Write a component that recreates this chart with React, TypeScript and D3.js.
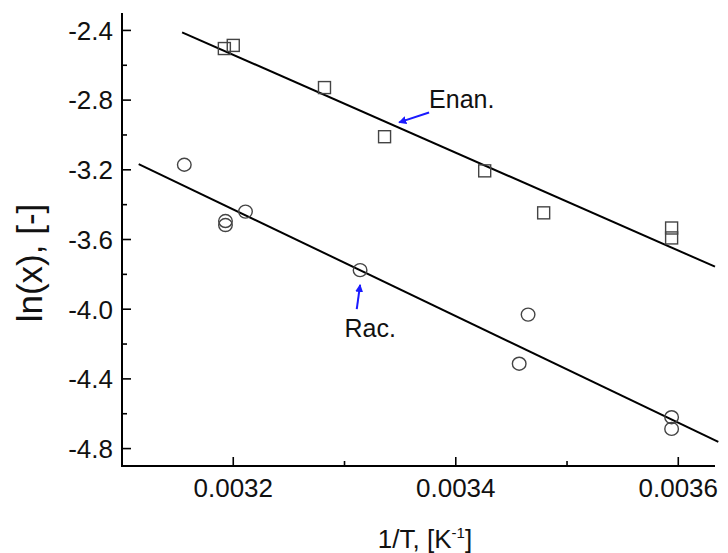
import React from "react";
import * as d3 from "d3";

// Data
const enanX = [0.003192, 0.0032, 0.003282, 0.003336, 0.003426, 0.003479, 0.003594, 0.003594];
const enanY = [-2.504, -2.486, -2.728, -3.010, -3.206, -3.447, -3.534, -3.591];
const racX = [0.003156, 0.003193, 0.003193, 0.003211, 0.003314, 0.003465, 0.003457, 0.003594, 0.003594];
const racY = [-3.171, -3.494, -3.517, -3.440, -3.776, -4.031, -4.313, -4.620, -4.687];

// Linear fit lines (endpoints in data units)
const enanFitX = [0.003154, 0.003633];
const enanFitY = [-2.411, -3.756];
const racFitX = [0.003115, 0.003636];
const racFitY = [-3.167, -4.762];

const xMajorTicks = [0.0032, 0.0034, 0.0036];
const xMinorTicks = [0.0033, 0.0035];
const yMajorTicks = [-2.4, -2.8, -3.2, -3.6, -4.0, -4.4, -4.8];
const yMinorTicks = [-2.6, -3.0, -3.4, -3.8, -4.2, -4.6];

const xLabel = "1/T, [K";
const yLabel = "ln(x), [-]";
const enanLabel = "Enan.";
const racLabel = "Rac.";

export default function App() {
  const W = 728, H = 553;
  const x = d3.scaleLinear().domain([0.0031, 0.003633]).range([122, 715]);
  const y = d3.scaleLinear().domain([-4.9, -2.3]).range([466, 13]);
  const font = "'Liberation Sans', Arial, sans-serif";
  const [x0, x1] = x.range();
  const [yb, yt] = y.range();
  const line = d3.line<[number, number]>().x((d) => x(d[0])).y((d) => y(d[1]));
  const enanFit: [number, number][] = enanFitX.map((v, i) => [v, enanFitY[i]]);
  const racFit: [number, number][] = racFitX.map((v, i) => [v, racFitY[i]]);
  const blue = "#1a1aff";
  const sq = 12;
  const fmtY = (t: number) => d3.format(".1f")(t).replace("\u2212", "-");

  // annotation anchors (data units)
  const enanText = { x: 0.003376, y: -2.843 };
  const enanArrow = [[0.003376, -2.871], [0.003349, -2.928]];
  const racText = { x: 0.0033, y: -4.16 };
  const racArrow = [[0.003311, -4.0], [0.003314, -3.86]];

  return (
    <svg width={W} height={H} style={{ position: "absolute", left: 0, top: 0, background: "#fff" }}>
      <defs>
        <marker id="ah" viewBox="0 0 10 10" refX="9" refY="5" markerWidth="4" markerHeight="4" orient="auto">
          <path d="M0,0 L10,5 L0,10 z" fill={blue} />
        </marker>
      </defs>
      {/* fit lines */}
      <path d={line(enanFit) || ""} stroke="#000" strokeWidth={2} fill="none" />
      <path d={line(racFit) || ""} stroke="#000" strokeWidth={2} fill="none" />
      {/* markers */}
      {enanX.map((v, i) => (
        <rect key={"s" + i} x={x(v) - sq / 2} y={y(enanY[i]) - sq / 2} width={sq} height={sq}
          fill="none" stroke="#444" strokeWidth={1.4} />
      ))}
      {racX.map((v, i) => (
        <ellipse key={"c" + i} cx={x(v)} cy={y(racY[i])} rx={6.8} ry={6.5}
          fill="none" stroke="#444" strokeWidth={1.4} />
      ))}
      {/* axes */}
      <line x1={x0} x2={x0} y1={yt} y2={yb + 1} stroke="#000" strokeWidth={2} />
      <line x1={x0 - 1} x2={x1} y1={yb} y2={yb} stroke="#000" strokeWidth={2} />
      {xMajorTicks.map((t) => (
        <g key={"xt" + t}>
          <line x1={x(t)} x2={x(t)} y1={yb} y2={yb - 9} stroke="#000" strokeWidth={1.6} />
          <text x={x(t)} y={yb + 31} textAnchor="middle" fontFamily={font} fontSize={26} fill="#111">
            {d3.format(".4f")(t)}
          </text>
        </g>
      ))}
      {xMinorTicks.map((t) => (
        <line key={"xm" + t} x1={x(t)} x2={x(t)} y1={yb} y2={yb - 5} stroke="#000" strokeWidth={1.6} />
      ))}
      {yMajorTicks.map((t) => (
        <g key={"yt" + t}>
          <line x1={x0} x2={x0 + 9} y1={y(t)} y2={y(t)} stroke="#000" strokeWidth={1.6} />
          <text x={x0 - 9} y={y(t)} dy="0.36em" textAnchor="end" fontFamily={font} fontSize={26} fill="#111">
            {fmtY(t)}
          </text>
        </g>
      ))}
      {yMinorTicks.map((t) => (
        <line key={"ym" + t} x1={x0} x2={x0 + 5} y1={y(t)} y2={y(t)} stroke="#000" strokeWidth={1.6} />
      ))}
      {/* axis titles */}
      <text x={425} y={548} textAnchor="middle" fontFamily={font} fontSize={26} fill="#111">
        {xLabel}
        <tspan dy={-10} fontSize={15}>-1</tspan>
        <tspan dy={10}>]</tspan>
      </text>
      <text transform={`translate(42,263) rotate(-90)`} textAnchor="middle" fontFamily={font} fontSize={35} fill="#111">
        {yLabel}
      </text>
      {/* annotations */}
      <text x={x(enanText.x)} y={y(enanText.y)} fontFamily={font} fontSize={25} fill="#111">{enanLabel}</text>
      <line x1={x(enanArrow[0][0])} y1={y(enanArrow[0][1])} x2={x(enanArrow[1][0])} y2={y(enanArrow[1][1])}
        stroke={blue} strokeWidth={2} markerEnd="url(#ah)" />
      <text x={x(racText.x)} y={y(racText.y)} fontFamily={font} fontSize={25} fill="#111">{racLabel}</text>
      <line x1={x(racArrow[0][0])} y1={y(racArrow[0][1])} x2={x(racArrow[1][0])} y2={y(racArrow[1][1])}
        stroke={blue} strokeWidth={2} markerEnd="url(#ah)" />
    </svg>
  );
}
